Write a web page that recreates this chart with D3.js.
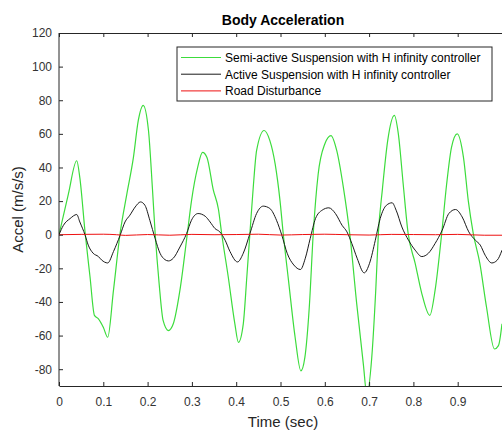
<!DOCTYPE html>
<html>
<head>
<meta charset="utf-8">
<script src="https://cdn.jsdelivr.net/npm/d3@7"></script>
<style>
  body { margin: 0; background: #fff; }
  svg { display: block; font-family: "Liberation Sans", Arial, sans-serif; }
</style>
</head>
<body>
<div id="chart-area"></div>
<script>
// values
const semiT = [0, 0.021, 0.040, 0.047, 0.059, 0.070, 0.080, 0.089, 0.100, 0.110, 0.123, 0.138, 0.153, 0.168, 0.179, 0.190, 0.202, 0.211, 0.217, 0.226, 0.235, 0.247, 0.258, 0.273, 0.288, 0.299, 0.313, 0.324, 0.334, 0.348, 0.360, 0.367, 0.382, 0.397, 0.405, 0.416, 0.424, 0.431, 0.439, 0.446, 0.463, 0.476, 0.488, 0.499, 0.506, 0.518, 0.533, 0.546, 0.555, 0.565, 0.574, 0.585, 0.600, 0.614, 0.627, 0.642, 0.657, 0.672, 0.687, 0.695, 0.706, 0.715, 0.721, 0.730, 0.742, 0.757, 0.766, 0.777, 0.788, 0.804, 0.819, 0.837, 0.849, 0.864, 0.875, 0.886, 0.899, 0.913, 0.924, 0.935, 0.950, 0.965, 0.983, 0.992, 1.0];
const semiV = [0, 24, 44, 34, 1, -25, -48, -50, -55, -61, -33, 1, 24, 46, 68, 77, 62, 27, 1, -29, -51, -57, -53, -33, -3, 20, 40, 49, 46, 27, 15, 1, -25, -53, -64, -53, -25, 1, 30, 50, 62, 56, 42, 20, 1, -27, -61, -81, -73, -43, 1, 36, 54, 59, 50, 28, -1, -41, -77, -95, -73, -33, 1, 27, 56, 71, 60, 30, 1, -17, -35, -48, -33, 1, 30, 52, 60, 46, 20, 1, -17, -43, -68, -66, -53];

const activeT = [0, 0.010, 0.025, 0.040, 0.047, 0.059, 0.066, 0.077, 0.089, 0.096, 0.110, 0.123, 0.138, 0.149, 0.160, 0.172, 0.184, 0.194, 0.205, 0.217, 0.228, 0.239, 0.247, 0.258, 0.273, 0.288, 0.299, 0.314, 0.330, 0.341, 0.352, 0.363, 0.375, 0.386, 0.403, 0.416, 0.431, 0.446, 0.461, 0.476, 0.491, 0.503, 0.515, 0.530, 0.545, 0.556, 0.567, 0.579, 0.594, 0.609, 0.624, 0.639, 0.650, 0.661, 0.673, 0.689, 0.701, 0.714, 0.725, 0.739, 0.752, 0.761, 0.774, 0.789, 0.804, 0.819, 0.834, 0.849, 0.865, 0.880, 0.895, 0.910, 0.925, 0.940, 0.951, 0.962, 0.977, 0.989, 1.0];
const activeV = [0, 5.6, 9.6, 12, 7.6, -0.3, -6.2, -11, -13, -15, -16.8, -10, -0.3, 7.6, 11.6, 16.5, 19.5, 17.5, 8.6, -2.3, -11, -14.8, -15.6, -14, -7.3, 0.7, 8.6, 12.6, 11, 7.6, 3.7, 1.7, -3.3, -10, -16.2, -11, 0.7, 12.6, 17, 15.6, 8.6, -0.3, -11, -18, -20.7, -14, -2.3, 9.6, 14.6, 16, 12.6, 5.6, 1.7, -5.2, -14, -22.7, -17, -3.3, 9.6, 17.5, 19, 14.6, 4.6, -3.3, -9.2, -13, -11, -5.2, 2.7, 12.6, 15, 10.6, 1.7, -3.3, -6.2, -12.2, -16.8, -15.2, -9.2];

const roadT = [0, 0.05, 0.10, 0.13, 0.15, 0.20, 0.25, 0.30, 0.35, 0.40, 0.45, 0.50, 0.55, 0.60, 0.65, 0.70, 0.75, 0.80, 0.85, 0.90, 0.96, 1.0];
const roadV = [0, 0.2, 0.3, 0, -0.4, 0.1, -0.3, 0.2, 0, 0.1, 0.3, -0.2, 0.1, 0.3, 0, -0.2, 0.2, 0.1, 0, 0.2, -0.3, -0.3];

const seriesNames = ["Semi-active Suspension with H infinity controller", "Active Suspension with H infinity controller", "Road Disturbance"];
const seriesColors = ["#3cdc3c", "#1a1a1a", "#ee1111"];

const xTicks = [0, 0.1, 0.2, 0.3, 0.4, 0.5, 0.6, 0.7, 0.8, 0.9];
const yTicks = [-80, -60, -40, -20, 0, 20, 40, 60, 80, 100, 120];

const W = 502, H = 430;
const margin = { top: 33, right: 0, bottom: 44, left: 59 };
const axisColor = "#262626";

const svg = d3.select("#chart-area")
    .append("svg")
    .attr("width", W)
    .attr("height", H);

const x = d3.scaleLinear()
    .domain([0, 1])
    .range([margin.left, W - margin.right]);

const y = d3.scaleLinear()
    .domain([-90, 120])
    .range([H - margin.bottom, margin.top]);

svg.append("clipPath")
    .attr("id", "plot-clip")
    .append("rect")
    .attr("x", margin.left)
    .attr("y", margin.top)
    .attr("width", W - margin.left)
    .attr("height", H - margin.bottom - margin.top);

const line = d3.line()
    .curve(d3.curveMonotoneX)
    .x(d => x(d[0]))
    .y(d => y(d[1]));

const zip = (ts, vs) => ts.map((t, i) => [t, vs[i]]);
const allSeries = [zip(semiT, semiV), zip(activeT, activeV), zip(roadT, roadV)];

const lines = svg.append("g").attr("clip-path", "url(#plot-clip)");
allSeries.forEach((s, i) => {
    lines.append("path")
        .datum(s)
        .attr("fill", "none")
        .attr("stroke", seriesColors[i])
        .attr("stroke-width", i === 0 ? 1.2 : 1)
        .attr("d", line);
});

// axes (MATLAB style, ticks pointing inward)
const xAxis = svg.append("g")
    .attr("transform", `translate(0, ${H - margin.bottom})`)
    .call(d3.axisBottom(x).tickValues(xTicks).tickSizeInner(-4).tickSizeOuter(0).tickPadding(11).tickFormat(d => String(d)));

const xTop = svg.append("g")
    .attr("transform", `translate(0, ${margin.top})`)
    .call(d3.axisTop(x).tickValues(xTicks).tickSizeInner(-4).tickSizeOuter(0).tickFormat(""));

const yAxis = svg.append("g")
    .attr("transform", `translate(${margin.left}, 0)`)
    .call(d3.axisLeft(y).tickValues(yTicks).tickSizeInner(-4).tickSizeOuter(0).tickPadding(7).tickFormat(d => String(d)));

[xAxis, xTop, yAxis].forEach(a => {
    a.select(".domain").attr("stroke", axisColor);
    a.selectAll(".tick line").attr("stroke", axisColor);
    a.selectAll(".tick text")
        .attr("fill", "#333")
        .attr("font-size", "12px")
        .attr("font-family", "Liberation Sans, Arial, sans-serif");
});
// left axis line extends down to the x axis
yAxis.select(".domain").attr("d", `M0,${y(-90)}V${y(120)}`);

svg.append("text")
    .attr("x", 283)
    .attr("y", 25)
    .attr("text-anchor", "middle")
    .attr("font-size", "14px")
    .attr("font-weight", "bold")
    .attr("fill", "#000")
    .text("Body Acceleration");

svg.append("text")
    .attr("x", 283)
    .attr("y", 427)
    .attr("text-anchor", "middle")
    .attr("font-size", "15px")
    .attr("fill", axisColor)
    .text("Time (sec)");

svg.append("text")
    .attr("transform", `translate(23, ${(margin.top + H - margin.bottom) / 2}) rotate(-90)`)
    .attr("text-anchor", "middle")
    .attr("font-size", "15px")
    .attr("fill", axisColor)
    .text("Accel (m/s/s)");

// legend
const legend = svg.append("g").attr("transform", "translate(177, 47)");
legend.append("rect")
    .attr("width", 315)
    .attr("height", 54)
    .attr("fill", "#fff")
    .attr("stroke", axisColor)
    .attr("stroke-width", 1);

seriesNames.forEach((name, i) => {
    const ly = 10.5 + i * 16.7;
    legend.append("line")
        .attr("x1", 4).attr("x2", 44)
        .attr("y1", ly).attr("y2", ly)
        .attr("stroke", seriesColors[i])
        .attr("stroke-width", 1);
    legend.append("text")
        .attr("x", 48)
        .attr("y", ly + 4.3)
        .attr("font-size", "12px")
        .attr("fill", "#000")
        .text(name);
});
</script>
</body>
</html>
